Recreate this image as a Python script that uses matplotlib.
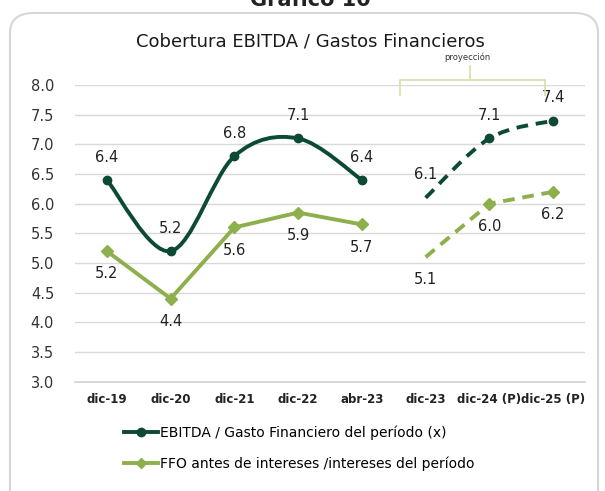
import numpy as np
import matplotlib
matplotlib.use("Agg")
import matplotlib.pyplot as plt
from matplotlib.path import Path
from matplotlib.patches import PathPatch, FancyBboxPatch
from matplotlib.lines import Line2D

# data
periods = ["dic-19", "dic-20", "dic-21", "dic-22", "abr-23",
           "dic-23", "dic-24 (P)", "dic-25 (P)"]
ebitda_hist = [6.4, 5.2, 6.8, 7.1, 6.4]
ebitda_proj = [6.1, 7.1, 7.4]
ffo_hist = [5.2, 4.4, 5.6, 5.85, 5.65]
ffo_proj = [5.1, 6.0, 6.2]
ebitda_labels = ["6.4", "5.2", "6.8", "7.1", "6.4", "6.1", "7.1", "7.4"]
ffo_labels = ["5.2", "4.4", "5.6", "5.9", "5.7", "5.1", "6.0", "6.2"]

dark = "#0d4a33"
light = "#8db04c"

plt.rcParams['font.family'] = ['DejaVu Sans']

fig = plt.figure(figsize=(6.05, 4.91), dpi=100)

# rounded frame and cut-off top title
fig.add_artist(FancyBboxPatch((10 / 605, -0.05), 588 / 605, 1.05 - 13 / 491,
                              boxstyle="round,pad=0,rounding_size=0.04",
                              transform=fig.transFigure, fc="white",
                              ec="#d6d6d6", lw=1.5, zorder=-5))
fig.text(0.513, 1.0, "Gráfico 10", ha="center", va="center",
         fontsize=15, fontweight="bold", color="#222222")
fig.text(0.513, 0.915, "Cobertura EBITDA / Gastos Financieros",
         ha="center", va="center", fontsize=13, color="#1a1a1a")

ax = fig.add_axes([75 / 605, 1 - 382 / 491, 510 / 605, 297 / 491])
ax.patch.set_alpha(0)
ax.set_xlim(-0.5, 7.5)
ax.set_ylim(2.995, 8.0)
ax.set_yticks(np.arange(3.0, 8.01, 0.5))
ax.set_yticklabels([f"{v:.1f}" for v in np.arange(3.0, 8.01, 0.5)])
ax.set_xticks(range(len(periods)))
ax.set_xticklabels(periods, fontsize=8.5, fontweight="bold", color="#222222")
ax.tick_params(axis="y", labelsize=10.5, colors="#333333", length=0, pad=15)
ax.tick_params(axis="x", length=0, pad=8)
ax.grid(axis="y", color="#d9d9d9", lw=1)
ax.axhline(3.0, color="#cfcfcf", lw=1.2, zorder=0, clip_on=False)
ax.set_axisbelow(True)
for s in ax.spines.values():
    s.set_visible(False)


def smooth_path(xs, ys):
    # Catmull-Rom style bezier through the data points
    pts = list(zip(xs, ys))
    verts = [pts[0]]
    codes = [Path.MOVETO]
    n = len(pts)
    for i in range(n - 1):
        p0 = pts[i - 1] if i > 0 else pts[i]
        p1 = pts[i]
        p2 = pts[i + 1]
        p3 = pts[i + 2] if i + 2 < n else pts[i + 1]
        c1 = (p1[0] + (p2[0] - p0[0]) / 6, p1[1] + (p2[1] - p0[1]) / 6)
        c2 = (p2[0] - (p3[0] - p1[0]) / 6, p2[1] - (p3[1] - p1[1]) / 6)
        verts += [c1, c2, p2]
        codes += [Path.CURVE4] * 3
    return Path(verts, codes)


xh = list(range(5))
xp = [5, 6, 7]

# EBITDA historical (smoothed)
ax.add_patch(PathPatch(smooth_path(xh, ebitda_hist), fc="none", ec=dark,
                       lw=2.8, capstyle="round"))
ax.plot(xh, ebitda_hist, "o", color=dark, ms=6)
# EBITDA projection
ax.add_patch(PathPatch(smooth_path(xp, ebitda_proj), fc="none", ec=dark,
                       lw=2.8, ls=(0, (3, 2))))
ax.plot(xp[1:], ebitda_proj[1:], "o", color=dark, ms=6)

# FFO
ax.plot(xh, ffo_hist, "-D", color=light, lw=2.8, ms=6)
ax.plot(xp, ffo_proj, color=light, lw=2.8, ls=(0, (3, 2)))
ax.plot(xp[1:], ffo_proj[1:], "D", color=light, ms=6)

ebitda_all = ebitda_hist + ebitda_proj
ffo_all = ffo_hist + ffo_proj
for i in range(len(periods)):
    ax.annotate(ebitda_labels[i], (i, ebitda_all[i]), xytext=(0, 11),
                textcoords="offset points", ha="center", va="bottom",
                fontsize=10.5, color="#222222")
    ax.annotate(ffo_labels[i], (i, ffo_all[i]), xytext=(0, -11),
                textcoords="offset points", ha="center", va="top",
                fontsize=10.5, color="#222222")

# proyeccion bracket
bc = "#dadca8"
x0, x1, xm = 400 / 605, 545 / 605, 470 / 605
yb, yh, yt = 1 - 95 / 491, 1 - 80 / 491, 1 - 66 / 491
fig.add_artist(Line2D([x0, x0, x1, x1], [yb, yh, yh, yb], color=bc, lw=1.2))
fig.add_artist(Line2D([xm, xm], [yh, yt], color=bc, lw=1.2))
fig.text(xm - 0.005, 1 - 57 / 491, "proyección", ha="center", va="center",
         fontsize=6, color="#333333")

# legend
h1 = Line2D([], [], color=dark, lw=2.8, marker="o", ms=6)
h2 = Line2D([], [], color=light, lw=2.8, marker="D", ms=5)
fig.legend([h1, h2], ["EBITDA / Gasto Financiero del período (x)",
                      "FFO antes de intereses /intereses del período"],
           loc="upper left", bbox_to_anchor=(118 / 605, 1 - 420 / 491),
           frameon=False, fontsize=10, handlelength=2.5, handletextpad=0.1,
           labelspacing=1.2, borderaxespad=0)

fig.savefig("out.png", dpi=100)
